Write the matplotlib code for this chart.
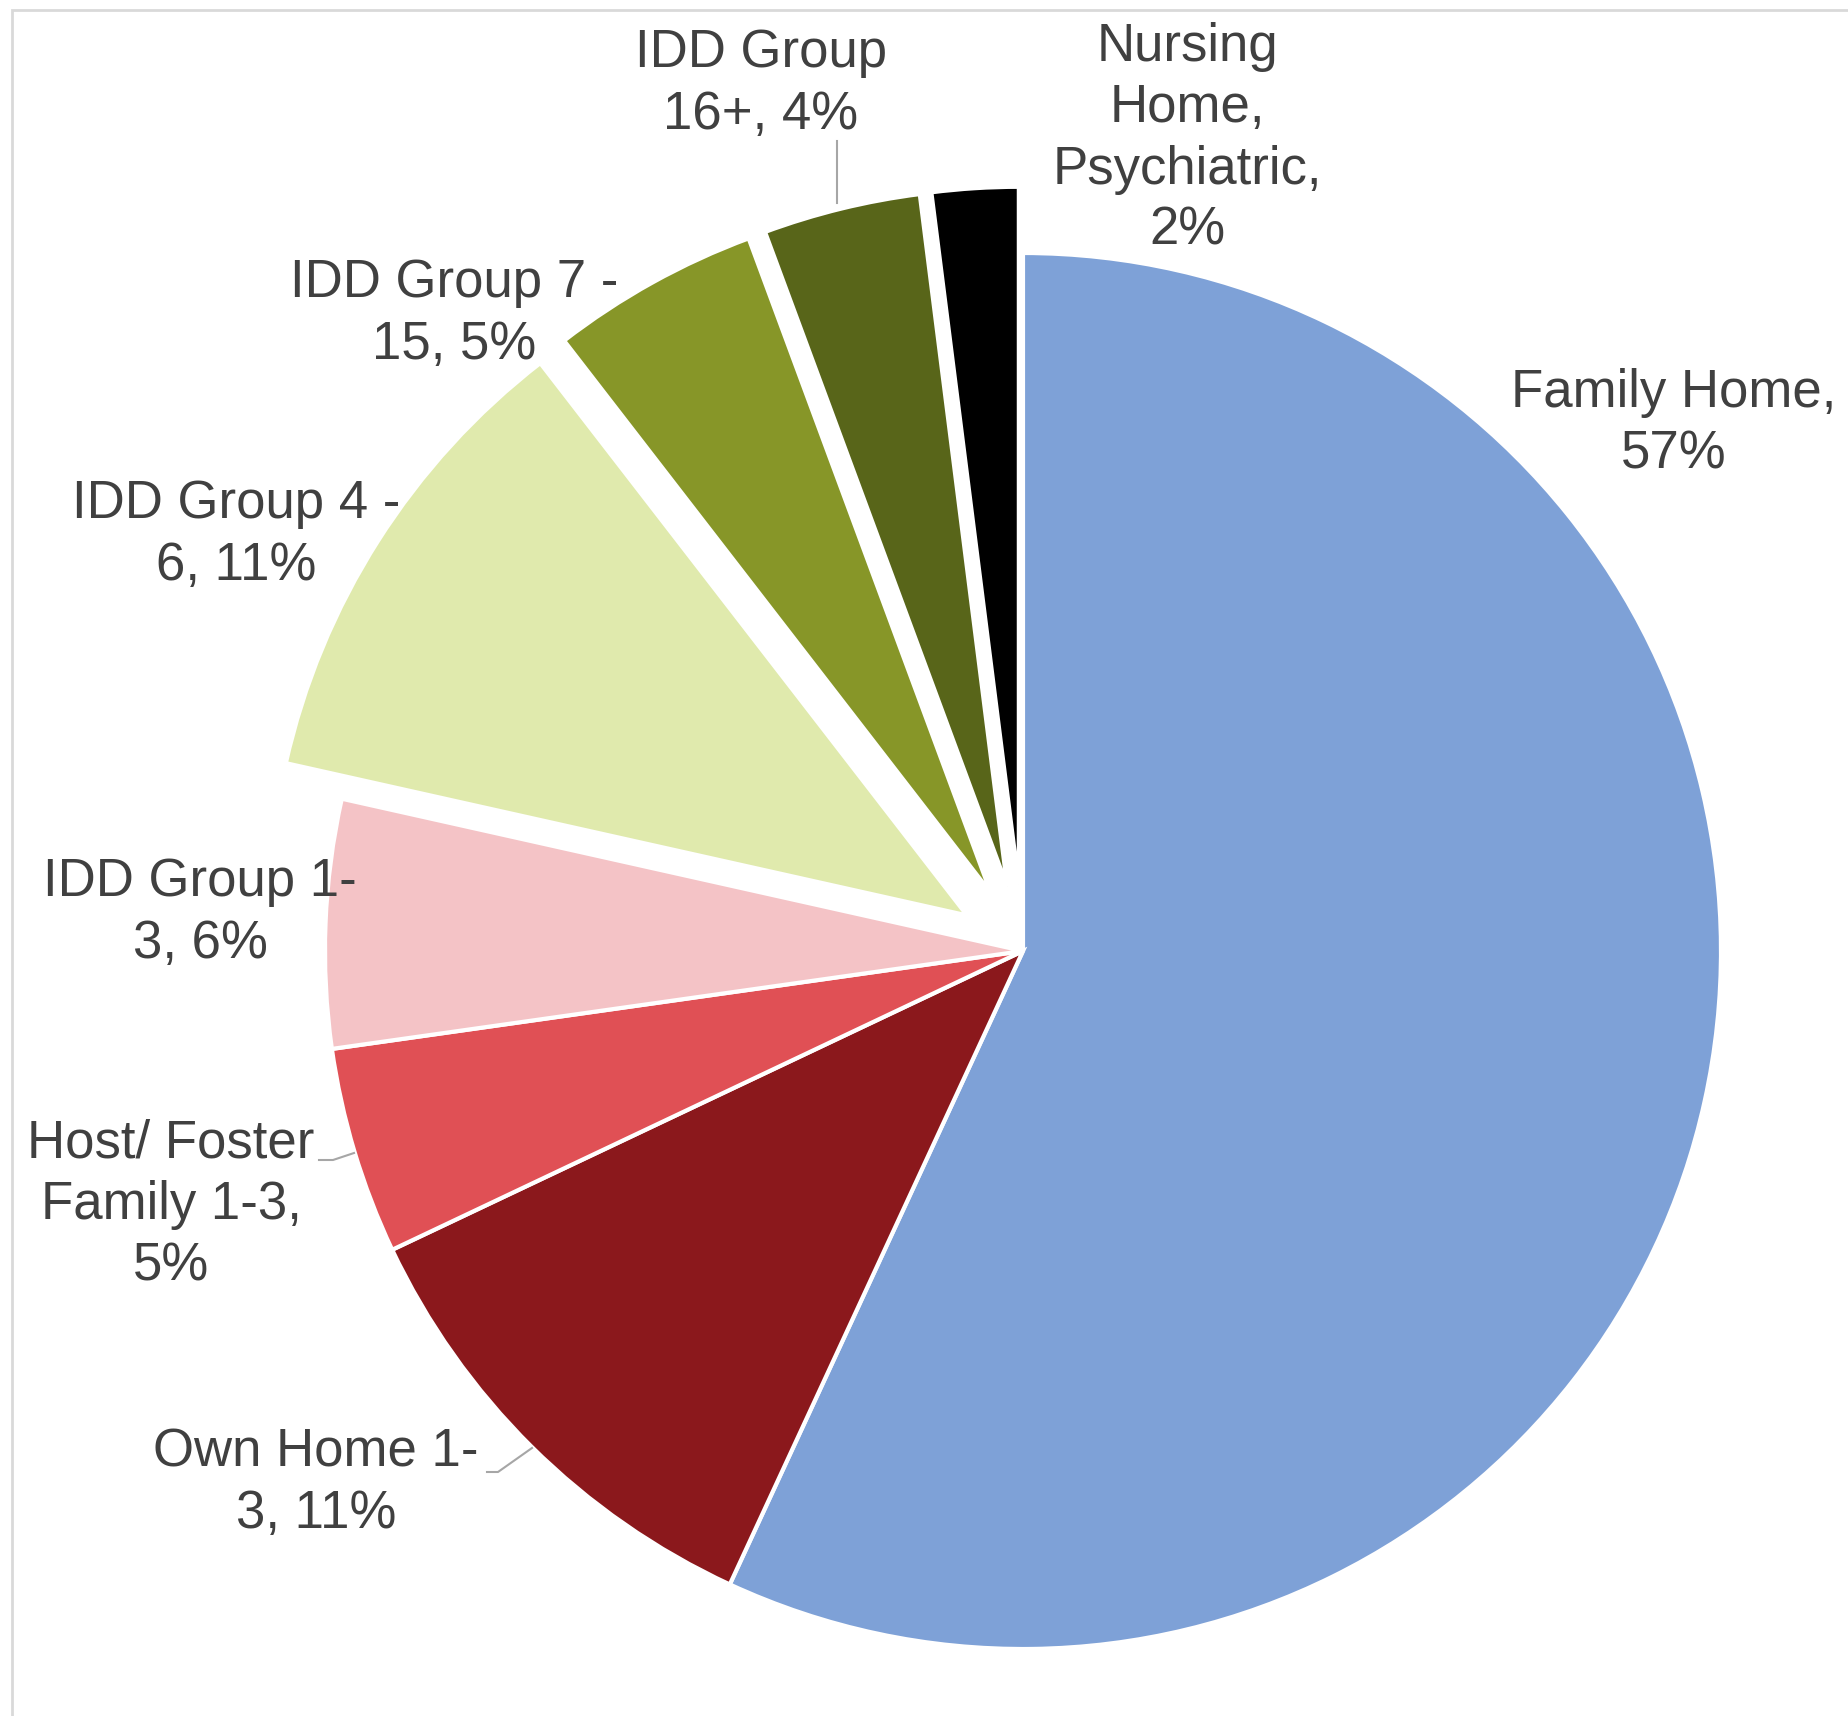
import matplotlib
matplotlib.use("Agg")
import matplotlib.pyplot as plt
from matplotlib.patches import Rectangle

categories = ["Family Home", "Own Home 1-3", "Host/ Foster Family 1-3", "IDD Group 1-3",
              "IDD Group 4 - 6", "IDD Group 7 - 15", "IDD Group 16+", "Nursing Home, Psychiatric"]
values = [56.9, 11.06, 4.8, 5.74, 11.03, 4.83, 3.64, 2.0]
explode = [0, 0, 0, 0, 0.095, 0.095, 0.095, 0.095]
colors = ["#7EA1D7", "#8B181C", "#E05055", "#F4C3C6", "#E0EAAD", "#879628", "#586519", "#000000"]
label_texts = ["Family Home,\n57%", "Own Home 1-\n3, 11%", "Host/ Foster\nFamily 1-3,\n5%",
               "IDD Group 1-\n3, 6%", "IDD Group 4 -\n6, 11%", "IDD Group 7 -\n15, 5%",
               "IDD Group\n16+, 4%", "Nursing\nHome,\nPsychiatric,\n2%"]

W, H = 1849, 1716
CX, CY, R = 1023, 951, 698

def d(px, py):
    return ((px - CX) / R, (CY - py) / R)

# label centres (pixel positions in the reference)
label_pos = [d(1674, 424), d(316, 1483), d(171, 1205), d(200, 913),
             d(236, 535), d(454, 314), d(761, 84), d(1187, 139)]

fig = plt.figure(figsize=(W / 100, H / 100), dpi=100)
ax = fig.add_axes([0, 0, 1, 1])

ax.pie(values, explode=explode, colors=colors, startangle=90, counterclock=False,
       radius=1.0, wedgeprops=dict(edgecolor="white", linewidth=3))

ax.set_xlim(-CX / R, (W - CX) / R)
ax.set_ylim(-(H - CY) / R, CY / R)
ax.set_aspect("equal")
ax.axis("off")

for txt, (x, y) in zip(label_texts, label_pos):
    ax.text(x, y, txt, ha="center", va="center", fontsize=38, color="#404040",
            family="Liberation Sans", linespacing=1.29)

leaders = [
    [(837, 141), (837, 203)],
    [(319, 1160), (333, 1160), (354, 1153)],
    [(487, 1472), (498, 1472), (532, 1448)],
]
for pts in leaders:
    xs, ys = zip(*[d(*p) for p in pts])
    ax.plot(xs, ys, color="#A6A6A6", lw=1.5)

fig.patches.append(Rectangle((12 / W, -0.1), 1.2, (H - 10) / H + 0.1, transform=fig.transFigure,
                             fill=False, edgecolor="#D9D9D9", lw=2))

fig.savefig("out.png", dpi=100)
